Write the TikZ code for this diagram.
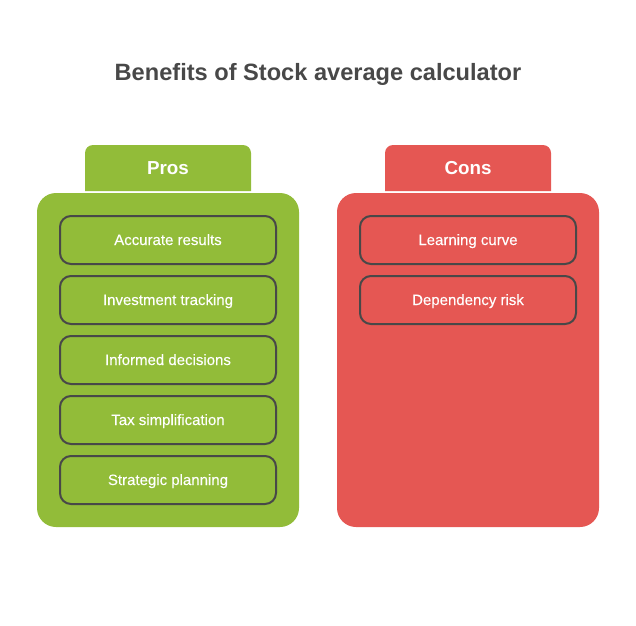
\documentclass[tikz,border=0pt]{standalone}
\usepackage{fontspec}
\setmainfont{Liberation Sans}
\definecolor{prosgreen}{HTML}{92BC39}
\definecolor{consred}{HTML}{E55753}
\definecolor{inkgrey}{HTML}{484848}
\begin{document}
\begin{tikzpicture}[x=1pt,y=-1pt,
        panel box/.style={rounded corners=19pt, minimum width=262pt, minimum height=334pt, inner sep=0pt},
        item box/.style={draw=inkgrey, line width=2pt, rounded corners=11pt, minimum width=216pt, minimum height=48pt,
          inner sep=0pt, text=white, text height=10pt, text depth=0pt, font=\fontsize{15}{17}\selectfont\addfontfeature{FakeBold=0.2}},
        tab label/.style={text=white, inner sep=0pt, text height=12pt, text depth=0pt, font=\fontsize{18.8}{22}\selectfont\bfseries}]
        \useasboundingbox (0,0) rectangle (636,625);
        \node[text=inkgrey, inner sep=0pt, text height=16pt, text depth=0pt, font=\fontsize{23.6}{28}\selectfont\bfseries] (title) at (318,72) {Benefits of Stock average calculator};

        \begin{scope}[shift={(0,0)}]
          \fill[prosgreen] (85,191) [rounded corners=8pt] -- (85,145) -- (251,145) [sharp corners] -- (251,191) -- cycle;
          \node[tab label] (pros) at (168,168) {Pros};
          \node[panel box, fill=prosgreen] (pros panel) at (168,360) {};
          \node[item box] (accurate)  at (168,240) {Accurate results};
          \node[item box] (tracking)  at (168,300) {Investment tracking};
          \node[item box] (decisions) at (168,360) {Informed decisions};
          \node[item box] (tax)       at (168,420) {Tax simplification};
          \node[item box] (planning)  at (168,480) {Strategic planning};
        \end{scope}

        \begin{scope}[shift={(300,0)}]
          \fill[consred] (85,191) [rounded corners=8pt] -- (85,145) -- (251,145) [sharp corners] -- (251,191) -- cycle;
          \node[tab label] (cons) at (168,168) {Cons};
          \node[panel box, fill=consred] (cons panel) at (168,360) {};
          \node[item box] (learning)   at (168,240) {Learning curve};
          \node[item box] (dependency) at (168,300) {Dependency risk};
        \end{scope}
      \end{tikzpicture}
\end{document}
